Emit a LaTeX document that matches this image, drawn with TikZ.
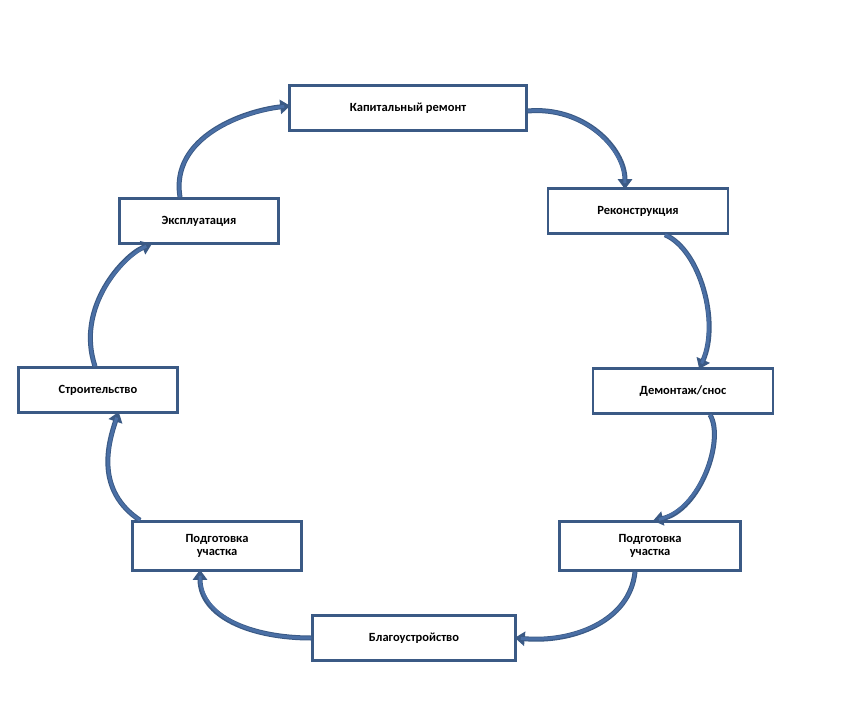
\documentclass[tikz,border=0pt]{standalone}
\usepackage{fontspec}
\setmainfont{Carlito}
\usetikzlibrary{arrows.meta}
\definecolor{bord}{HTML}{3B5A85}
\definecolor{arr}{HTML}{4A6FA5}
\begin{document}
\begin{tikzpicture}[x=1pt,y=-1pt,
 box/.style={draw=bord,line width=2.5pt,fill=white,font=\bfseries\fontsize{12.5}{13}\selectfont,align=center,inner sep=0pt},
 ar/.style={draw=bord,line width=5pt,-{Triangle[width=14pt,length=10pt]},shorten >=-2pt},
 ari/.style={draw=arr,line width=3pt,shorten >=4pt}]
\useasboundingbox (0,0) rectangle (850,727);
\node[box,minimum width=237,minimum height=45] (kap) at (408,108) {Капитальный ремонт};
\node[box,minimum width=180,minimum height=45] (rek) at (638,211) {Реконструкция};
\node[box,minimum width=180,minimum height=45] (dem) at (683,391) {Демонтаж/снос};
\node[box,minimum width=181,minimum height=49] (pr) at (650,546) {Подготовка\\участка};
\node[box,minimum width=203,minimum height=45] (bla) at (414,638) {Благоустройство};
\node[box,minimum width=169,minimum height=49] (pl) at (217,546) {Подготовка\\участка};
\node[box,minimum width=159,minimum height=45] (str) at (98,390) {Строительство};
\node[box,minimum width=159,minimum height=45] (eks) at (199,221) {Эксплуатация};
\foreach \s/\c in {ar/bord, ari/arr}{
\draw[\s] ([yshift=-3]kap.east) .. controls +(55,-5) and +(0,-40) .. ([xshift=-13]rek.north);
\draw[\s] ([xshift=27]rek.south) .. controls +(35,15) and +(20,-45) .. ([xshift=17]dem.north);
\draw[\s] ([xshift=27]dem.south) .. controls +(15,25) and +(45,-10) .. ([xshift=5]pr.north);
\draw[\s] ([xshift=-15]pr.south) .. controls +(-5,50) and +(55,5) .. (bla.east);
\draw[\s] (bla.west) .. controls +(-60,0) and +(0,45) .. ([xshift=-17]pl.south);
\draw[\s] ([xshift=-77]pl.north) .. controls +(-45,-30) and +(-10,30) .. ([xshift=20]str.south);
\draw[\s] ([xshift=-3]str.north) .. controls +(-20,-60) and +(-25,10) .. ([xshift=-49]eks.south);
\draw[\s] ([xshift=-19]eks.north) .. controls +(-10,-60) and +(-45,5) .. ([yshift=2]kap.west);
}
\end{tikzpicture}
\end{document}
